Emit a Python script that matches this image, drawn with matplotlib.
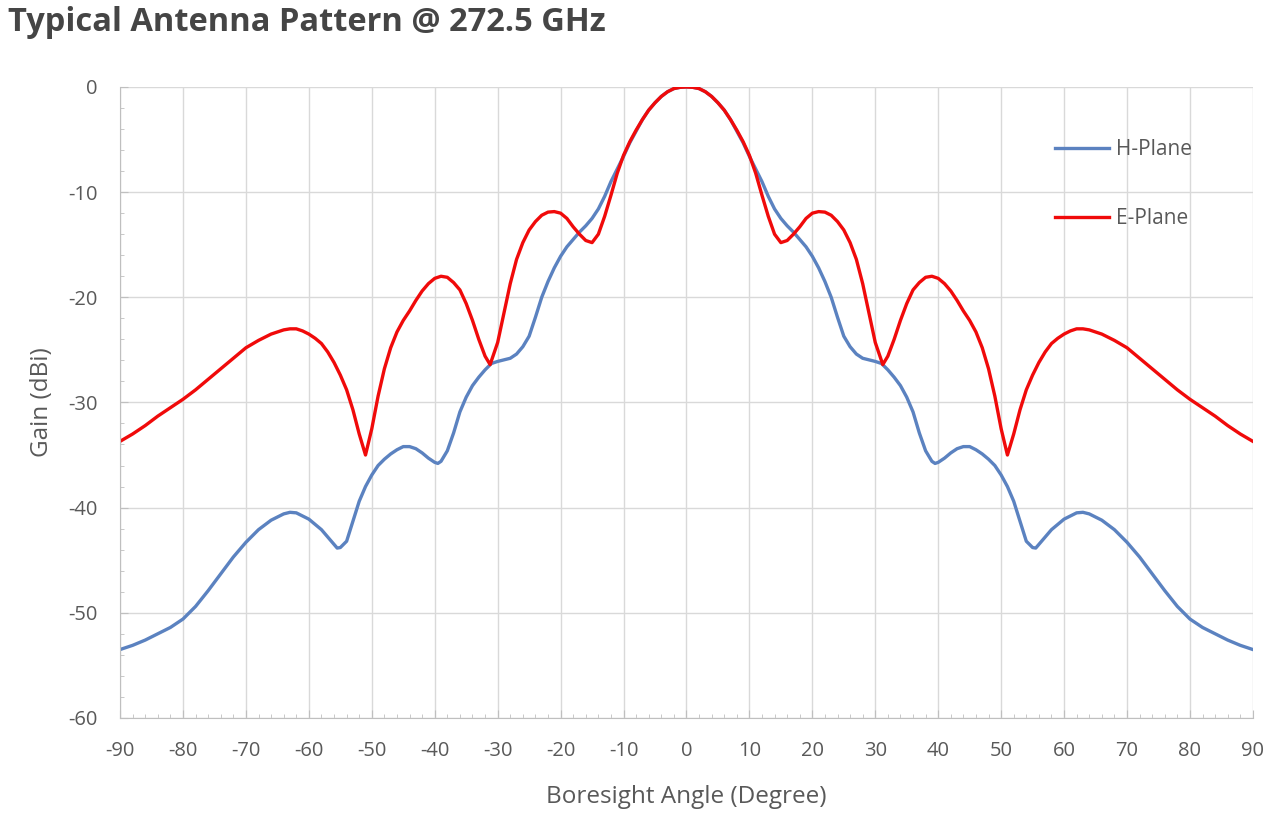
"""
Typical antenna pattern @ 272.5 GHz: H-plane and E-plane gain vs boresight angle.
"""

import matplotlib.pyplot as plt
from matplotlib.ticker import MultipleLocator

# ─── Data (deg, dBi) ─────────────────────────────────────────────────────────
# E-plane, left half (-90..0) and right half (1..90)
e_angle_left = [-90, -88, -86, -84, -82, -80, -78, -76, -74, -72, -70, -68, -66,
                -64, -63, -62, -61, -60, -59, -58, -57, -56, -55, -54, -53, -52,
                -51, -50, -49, -48, -47, -46, -45, -44, -43, -42, -41, -40, -39,
                -38, -37, -36, -35, -34, -33, -32, -31.2, -30, -29, -28, -27,
                -26, -25, -24, -23, -22, -21, -20, -19, -18, -17, -16, -15, -14,
                -13, -12, -11, -10, -9, -8, -7, -6, -5, -4, -3, -2, -1, 0]
e_gain_left = [-33.7, -33.0, -32.2, -31.3, -30.5, -29.7, -28.8, -27.8, -26.8,
               -25.8, -24.8, -24.1, -23.5, -23.1, -23.0, -23.0, -23.2, -23.5,
               -23.9, -24.4, -25.2, -26.2, -27.4, -28.8, -30.7, -33.0, -35.0,
               -32.5, -29.4, -26.8, -24.8, -23.3, -22.2, -21.3, -20.3, -19.4,
               -18.7, -18.2, -18.0, -18.1, -18.6, -19.3, -20.6, -22.2, -24.0,
               -25.6, -26.4, -24.3, -21.5, -18.7, -16.4, -14.8, -13.6, -12.8,
               -12.2, -11.9, -11.85, -12.0, -12.5, -13.3, -14.0, -14.6, -14.8,
               -14.0, -12.3, -10.3, -8.2, -6.5, -5.2, -4.1, -3.1, -2.2, -1.5,
               -0.9, -0.45, -0.15, -0.03, 0.0]
e_angle_right = (list(range(1, 31)) + [31.2] + list(range(32, 64))
                 + list(range(64, 91, 2)))
e_gain_right = [-0.03, -0.15, -0.45, -0.9, -1.5, -2.2, -3.1, -4.1, -5.2, -6.5,
                -8.2, -10.3, -12.3, -14.0, -14.8, -14.6, -14.0, -13.3, -12.5,
                -12.0, -11.85, -11.9, -12.2, -12.8, -13.6, -14.8, -16.4, -18.7,
                -21.5, -24.3, -26.4, -25.6, -24.0, -22.2, -20.6, -19.3, -18.6,
                -18.1, -18.0, -18.2, -18.7, -19.4, -20.3, -21.3, -22.2, -23.3,
                -24.8, -26.8, -29.4, -32.5, -35.0, -33.0, -30.7, -28.8, -27.4,
                -26.2, -25.2, -24.4, -23.9, -23.5, -23.2, -23.0, -23.0, -23.1,
                -23.5, -24.1, -24.8, -25.8, -26.8, -27.8, -28.8, -29.7, -30.5,
                -31.3, -32.2, -33.0, -33.7]

# H-plane, left half (-90..0) and right half (1..90)
h_angle_left = (list(range(-90, -63, 2)) + [-63, -62, -60, -58, -56, -55.5]
                + list(range(-55, -39)) + [-39.5] + list(range(-39, 1)))
h_gain_left = [-53.5, -53.1, -52.6, -52.0, -51.4, -50.6, -49.4, -47.9, -46.3,
               -44.7, -43.3, -42.1, -41.2, -40.6,
               -40.45, -40.5, -41.1, -42.1, -43.5, -43.85,
               -43.8, -43.2, -41.3, -39.4, -38.0, -36.9, -36.0, -35.4, -34.9,
               -34.5, -34.2, -34.2, -34.4, -34.8, -35.3, -35.7,
               -35.8,
               -35.6, -34.6, -32.9, -30.9, -29.5, -28.4, -27.6, -26.9, -26.3,
               -26.1, -25.95, -25.8, -25.4, -24.7, -23.7, -21.9, -20.0, -18.5,
               -17.2, -16.1, -15.2, -14.5, -13.8, -13.2, -12.5, -11.6, -10.4,
               -9.0, -7.8, -6.6, -5.3, -4.2, -3.1, -2.2, -1.5, -0.9, -0.45,
               -0.15, -0.03, 0.0]
h_angle_right = (list(range(1, 40)) + [39.5] + list(range(40, 56))
                 + [55.5, 56, 58, 60, 62, 63] + list(range(64, 91, 2)))
h_gain_right = [-0.03, -0.15, -0.45, -0.9, -1.5, -2.2, -3.1, -4.2, -5.3, -6.6,
                -7.8, -9.0, -10.4, -11.6, -12.5, -13.2, -13.8, -14.5, -15.2,
                -16.1, -17.2, -18.5, -20.0, -21.9, -23.7, -24.7, -25.4, -25.8,
                -25.95, -26.1, -26.3, -26.9, -27.6, -28.4, -29.5, -30.9, -32.9,
                -34.6, -35.6,
                -35.8,
                -35.7, -35.3, -34.8, -34.4, -34.2, -34.2, -34.5, -34.9, -35.4,
                -36.0, -36.9, -38.0, -39.4, -41.3, -43.2, -43.8,
                -43.85, -43.5, -42.1, -41.1, -40.5, -40.45,
                -40.6, -41.2, -42.1, -43.3, -44.7, -46.3, -47.9, -49.4, -50.6,
                -51.4, -52.0, -52.6, -53.1, -53.5]

e_angle = e_angle_left + e_angle_right
e_gain = e_gain_left + e_gain_right
h_angle = h_angle_left + h_angle_right
h_gain = h_gain_left + h_gain_right

x_ticks = list(range(-90, 91, 10))
y_ticks = list(range(-60, 1, 10))

# ─── Figure ──────────────────────────────────────────────────────────────────
plt.rcParams['font.family'] = ['Open Sans', 'DejaVu Sans']
plt.rcParams['axes.unicode_minus'] = False
text_gray = '#595959'
grid_gray = '#D9D9D9'

fig = plt.figure(figsize=(12.8, 8.13), dpi=100)
ax = fig.add_axes([0.0938, 0.117, 0.885, 0.776])

ax.plot(h_angle, h_gain, color='#5B82C0', linewidth=2.4, label='H-Plane',
        solid_joinstyle='round')
ax.plot(e_angle, e_gain, color='#F00A0A', linewidth=2.4, label='E-Plane',
        solid_joinstyle='round')

ax.set_xlim(-90, 90)
ax.set_ylim(-60, 0)
ax.set_xticks(x_ticks)
ax.set_yticks(y_ticks)
ax.xaxis.set_minor_locator(MultipleLocator(2))
ax.yaxis.set_minor_locator(MultipleLocator(2))
ax.tick_params(which='major', direction='in', length=6, color='#BFBFBF',
               labelsize=14.5, labelcolor=text_gray)
ax.tick_params(axis='x', which='major', pad=17)
ax.tick_params(axis='y', which='major', pad=16)
ax.tick_params(which='minor', direction='in', length=3, color='#BFBFBF')
ax.grid(True, which='major', color=grid_gray, linewidth=1.0)
ax.set_axisbelow(True)

for side in ('top', 'right'):
    ax.spines[side].set_visible(False)
for side in ('left', 'bottom'):
    ax.spines[side].set_color('#BFBFBF')

ax.set_xlabel('Boresight Angle (Degree)', fontsize=17.5, color=text_gray,
              labelpad=17)
ax.set_ylabel('Gain (dBi)', fontsize=17.5, color=text_gray, labelpad=10)

fig.text(0.006, 0.972, 'Typical Antenna Pattern @ 272.5 GHz', fontsize=23.5,
         fontweight='bold', color='#454545', va='center', ha='left')

ax.legend(loc='upper left', bbox_to_anchor=(0.825, 0.917), frameon=False,
          fontsize=15, labelspacing=2.3, handlelength=2.6, handletextpad=0.35,
          borderpad=0, borderaxespad=0, labelcolor=text_gray)

plt.savefig('out.png', dpi=100)
